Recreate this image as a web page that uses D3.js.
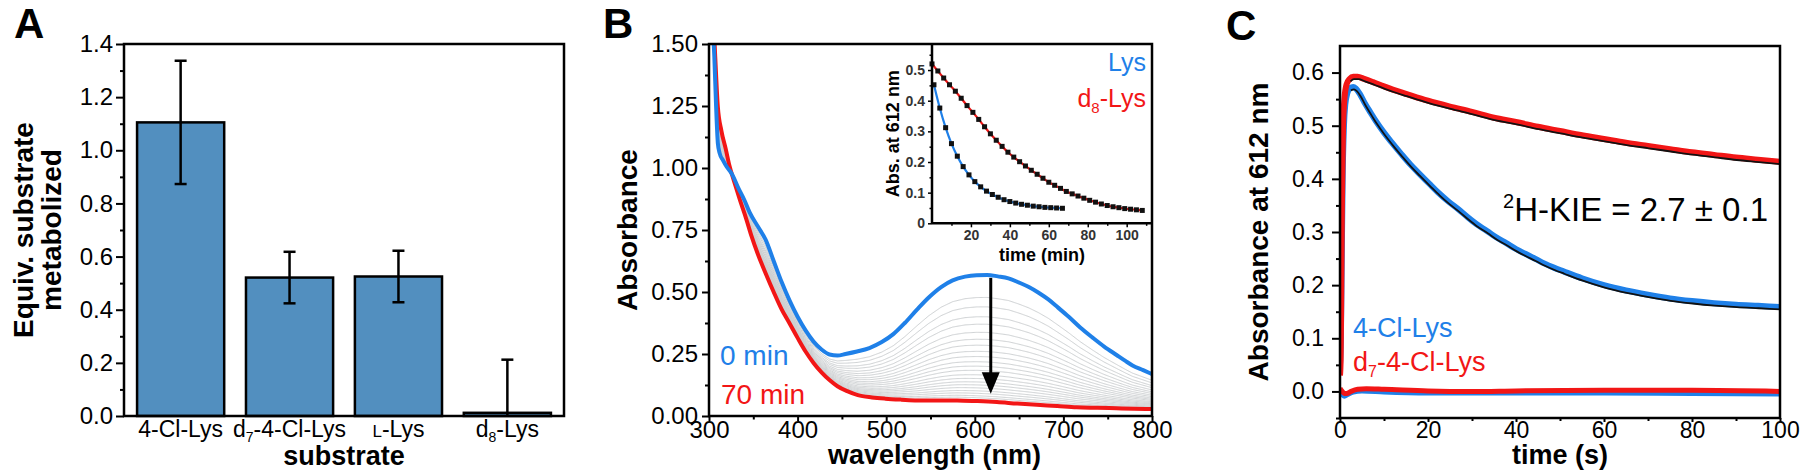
<!DOCTYPE html>
<html><head><meta charset="utf-8">
<script src="https://cdn.jsdelivr.net/npm/d3@7"></script>
<style>body{margin:0;background:#fff}svg{display:block}</style>
</head><body><svg id="c" width="1800" height="470"></svg>
<script>
// ---------------- DATA ----------------
// Panel A
const barCategories = ["4-Cl-Lys", "d7-4-Cl-Lys", "L-Lys", "d8-Lys"];
const barValues = [1.105, 0.521, 0.525, 0.012];
const barErrors = [0.232, 0.097, 0.097, 0.2];
const barYTicks = [0, 0.2, 0.4, 0.6, 0.8, 1.0, 1.2, 1.4];
const barYMinor = [0.1, 0.3, 0.5, 0.7, 0.9, 1.1, 1.3];

// Panel B spectra
const spec0Wavelength = [304,306,308,310,312,316,320,326,333,340,346,355,364,373,382,391,400,409,418,427,436,445,454,467,481,495,508,521,535,548,562,575,589,602,614,626,638,650,661,672,683,694,706,719,733,746,760,770,778,790,800];
const spec0Abs = [1.6,1.45,1.25,1.1,1.06,1.03,1.005,0.975,0.92,0.87,0.82,0.765,0.71,0.625,0.54,0.465,0.40,0.345,0.30,0.268,0.248,0.244,0.25,0.26,0.274,0.298,0.33,0.375,0.43,0.478,0.52,0.547,0.562,0.568,0.569,0.563,0.555,0.538,0.52,0.497,0.47,0.437,0.40,0.357,0.316,0.28,0.246,0.222,0.204,0.185,0.169];
const spec70Wavelength = [305,307,310,314,319,323,328,335,342,348,355,364,373,382,391,400,409,418,427,436,445,456,468,484,499,517,535,558,580,603,625,648,670,693,715,738,760,780,800];
const spec70Abs = [1.6,1.45,1.245,1.15,1.075,1.01,0.95,0.87,0.795,0.725,0.654,0.575,0.50,0.43,0.373,0.315,0.26,0.214,0.176,0.145,0.12,0.1,0.084,0.075,0.07,0.066,0.063,0.063,0.063,0.06,0.056,0.05,0.045,0.04,0.035,0.033,0.031,0.029,0.028];
// intermediate spectra, absorbance read at 612 nm
const grayAt612 = [0.478,0.44,0.40,0.37,0.337,0.309,0.285,0.26,0.239,0.218,0.2,0.183,0.165,0.15,0.136,0.124,0.112,0.1,0.09,0.08,0.072];
const specXTicks = [300,400,500,600,700,800];
const specXMinor = [350,450,550,650,750];
const specYTicks = [0,0.25,0.5,0.75,1.0,1.25,1.5];
const specYMinor = [0.125,0.375,0.625,0.875,1.125,1.375];

// Panel B inset
const lysTime = [1,4,7,10,13,16,19,22,25,28,31,34,37,40,43,46,49,52,55,58,61,64,67];
const lysAbs = [0.452,0.376,0.312,0.260,0.219,0.185,0.158,0.136,0.119,0.105,0.094,0.085,0.077,0.071,0.066,0.062,0.059,0.056,0.054,0.052,0.051,0.050,0.049];
const d8Time = [0,3,6,9,12,15,18,21,24,27,30,33,36,39,42,45,48,51,54,57,60,63,66,69,72,75,78,81,84,87,90,93,96,99,102,105,108];
const d8Abs = [0.52,0.497,0.474,0.452,0.431,0.408,0.384,0.362,0.339,0.315,0.292,0.271,0.251,0.232,0.216,0.201,0.187,0.173,0.160,0.147,0.134,0.124,0.114,0.104,0.096,0.089,0.082,0.075,0.069,0.063,0.058,0.054,0.051,0.048,0.046,0.044,0.042];
const insetXTicks = [20,40,60,80,100];
const insetXMinor = [10,30,50,70,90,110];
const insetYTicks = [0,0.1,0.2,0.3,0.4,0.5];
const insetYMinor = [0.05,0.15,0.25,0.35,0.45,0.55];

// Panel C kinetics
const clTime = [0,0.2,0.4,0.6,0.9,1.2,1.7,2.3,3,3.6,4.5,5.6,7,8.2,10,11.7,14,16,18,20.4,22.5,24.7,27,29,31,33.4,35.5,37.8,40,42.1,44.3,46.4,48.6,50.8,55,60,65,70,75,80,85,90,95,100];
const clAbs = [0.05,0.1,0.25,0.4,0.5,0.54,0.562,0.571,0.573,0.57,0.56,0.543,0.524,0.508,0.487,0.469,0.446,0.427,0.41,0.39,0.373,0.357,0.342,0.328,0.315,0.302,0.29,0.279,0.268,0.259,0.25,0.241,0.233,0.226,0.213,0.2,0.19,0.182,0.175,0.17,0.166,0.163,0.161,0.159];
const d7Time = [0,0.15,0.3,0.45,0.7,1.0,1.5,2.2,3,4,5.5,7.5,10,12,15,20,25,30,35,40,45,50,55,60,65,70,75,80,85,90,95,100];
const d7Abs = [0.03,0.06,0.2,0.36,0.5,0.55,0.578,0.588,0.592,0.592,0.588,0.582,0.574,0.568,0.56,0.547,0.536,0.526,0.515,0.507,0.498,0.49,0.482,0.475,0.468,0.462,0.456,0.45,0.445,0.44,0.436,0.432];
const ctrlRedTime = [0,0.5,1,1.5,2.5,4,6,10,20,30,40,60,80,100];
const ctrlRedAbs = [0.006,0.0,-0.004,-0.004,0.0,0.004,0.005,0.004,0.001,0.0,0.001,0.002,0.002,0.0];
const ctrlBlueTime = [0,0.5,1,1.7,3,5,10,20,40,60,80,100];
const ctrlBlueAbs = [-0.002,-0.006,-0.009,-0.006,-0.001,0.001,-0.001,-0.003,-0.003,-0.003,-0.004,-0.005];
const kinXTicks = [0,20,40,60,80,100];
const kinXMinor = [10,30,50,70,90];
const kinYTicks = [0,0.1,0.2,0.3,0.4,0.5,0.6];
const kinYMinor = [-0.05,0.05,0.15,0.25,0.35,0.45,0.55];

// ---------------- STYLE ----------------
const FONT = '"Liberation Sans", Arial, Helvetica, sans-serif';
const BLUE = "#1f80e8", RED = "#f21616", BAR = "#528fbf";
const svg = d3.select("#c").attr("font-family", FONT);

function axis(gen, x, y, vals, size, pad, fmt, fs) {
  const g = svg.append("g").attr("transform", `translate(${x},${y})`)
    .call(gen.tickValues(vals).tickSize(size).tickPadding(pad).tickFormat(fmt));
  g.select(".domain").remove();
  g.attr("font-family", FONT).attr("font-size", fs);
  g.selectAll("line").attr("stroke", "#000").attr("stroke-width", 2);
  g.selectAll("text").attr("fill", "#000");
  return g;
}
function frame(p, w) {
  svg.append("rect").attr("x", p.x0).attr("y", p.y0).attr("width", p.x1 - p.x0).attr("height", p.y1 - p.y0)
    .attr("fill", "none").attr("stroke", "#000").attr("stroke-width", w || 2.5);
}
function letter(t, x, y) {
  svg.append("text").attr("x", x).attr("y", y).attr("font-size", 42).attr("font-weight", "bold").text(t);
}
function ytitle(lines, cy, fs) {
  lines.forEach(l => {
    svg.append("text").attr("transform", `translate(${l.x},${cy}) rotate(-90)`)
      .attr("text-anchor", "middle").attr("dy", "0.35em").attr("font-size", fs).attr("font-weight", "bold").text(l.t);
  });
}
const TICK_BASE = 438, TITLE_BASE = 464;

// ---------------- PANEL A ----------------
const A = {x0: 124, x1: 564, y0: 44, y1: 416};
const xA = d3.scaleBand().domain(barCategories).range([A.x0, A.x1]).paddingInner(0.2).paddingOuter(0.12);
const yA = d3.scaleLinear().domain([0, 1.4]).range([A.y1, A.y0]);
svg.append("clipPath").attr("id", "clipA").append("rect").attr("x", A.x0).attr("y", A.y0).attr("width", A.x1 - A.x0).attr("height", A.y1 - A.y0);
svg.append("g").selectAll("rect").data(barCategories).join("rect")
  .attr("x", d => xA(d)).attr("width", xA.bandwidth())
  .attr("y", (d, i) => yA(barValues[i])).attr("height", (d, i) => yA(0) - yA(barValues[i]))
  .attr("fill", BAR).attr("stroke", "#000").attr("stroke-width", 2.5);
const eg = svg.append("g").attr("clip-path", "url(#clipA)").attr("stroke", "#000").attr("stroke-width", 2.5);
barCategories.forEach((c, i) => {
  const cx = xA(c) + xA.bandwidth() / 2;
  const hi = barValues[i] + barErrors[i], lo = barValues[i] - barErrors[i];
  eg.append("line").attr("x1", cx).attr("x2", cx).attr("y1", yA(hi)).attr("y2", yA(lo));
  eg.append("line").attr("x1", cx - 6).attr("x2", cx + 6).attr("y1", yA(hi)).attr("y2", yA(hi));
  eg.append("line").attr("x1", cx - 6).attr("x2", cx + 6).attr("y1", yA(lo)).attr("y2", yA(lo));
});
axis(d3.axisLeft(yA), A.x0, 0, barYTicks, 8, 3, d3.format(".1f"), 24);
axis(d3.axisLeft(yA), A.x0, 0, barYMinor, 4, 3, () => "", 24);
frame(A);
const catG = svg.append("g").attr("font-size", 23).attr("text-anchor", "middle");
barCategories.forEach(c => {
  const t = catG.append("text").attr("x", xA(c) + xA.bandwidth() / 2).attr("y", TICK_BASE - 1);
  if (c.startsWith("d7") || c.startsWith("d8")) {
    t.append("tspan").text("d");
    t.append("tspan").attr("font-size", 14).attr("dy", 5).text(c[1]);
    t.append("tspan").attr("dy", -5).text(c.slice(2));
  } else if (c === "L-Lys") {
    t.append("tspan").attr("font-size", 17).text("L");
    t.append("tspan").text("-Lys");
  } else t.text(c);
});
svg.append("text").attr("x", (A.x0 + A.x1) / 2).attr("y", TITLE_BASE + 1).attr("text-anchor", "middle")
  .attr("font-size", 27).attr("font-weight", "bold").text("substrate");
ytitle([{t: "Equiv. substrate", x: 23}, {t: "metabolized", x: 51}], (A.y0 + A.y1) / 2, 28);
letter("A", 14, 38);

// ---------------- PANEL B ----------------
const B = {x0: 709, x1: 1152, y0: 44, y1: 416};
const xB = d3.scaleLinear().domain([300, 800]).range([B.x0, B.x1]);
const yB = d3.scaleLinear().domain([0, 1.5]).range([B.y1, B.y0]);
svg.append("clipPath").attr("id", "clipB").append("rect").attr("x", B.x0).attr("y", B.y0).attr("width", B.x1 - B.x0).attr("height", B.y1 - B.y0);
const gB = svg.append("g").attr("clip-path", "url(#clipB)");
const blueI = d3.scaleLinear().domain(spec0Wavelength).range(spec0Abs).clamp(true);
const redI = d3.scaleLinear().domain(spec70Wavelength).range(spec70Abs).clamp(true);
const grid = d3.range(305, 800.5, 1);
const r612 = redI(612), b612 = blueI(612);
const lineB = d3.line().x(d => xB(d[0])).y(d => yB(d[1]));
grayAt612.forEach(g => {
  const f = (g - r612) / (b612 - r612);
  gB.append("path").datum(grid.map(w => [w, redI(w) + f * (blueI(w) - redI(w))]))
    .attr("d", lineB).attr("fill", "none").attr("stroke", "#cdd0d2").attr("stroke-width", 1);
});
const lineBm = d3.line().x(d => xB(d[0])).y(d => yB(d[1])).curve(d3.curveMonotoneX);
gB.append("path").datum(spec70Wavelength.map((w, i) => [w, spec70Abs[i]])).attr("d", lineBm)
  .attr("fill", "none").attr("stroke", RED).attr("stroke-width", 4);
gB.append("path").datum(spec0Wavelength.map((w, i) => [w, spec0Abs[i]])).attr("d", lineBm)
  .attr("fill", "none").attr("stroke", BLUE).attr("stroke-width", 4);
const ax = xB(618);
svg.append("line").attr("x1", ax).attr("x2", ax).attr("y1", yB(0.557)).attr("y2", yB(0.16))
  .attr("stroke", "#000").attr("stroke-width", 3);
svg.append("path").attr("d", `M${ax - 9},${yB(0.176)} L${ax + 9},${yB(0.176)} L${ax},${yB(0.09)} Z`).attr("fill", "#000");
svg.append("text").attr("x", 720).attr("y", yB(0.204)).attr("font-size", 28).attr("fill", BLUE).text("0 min");
svg.append("text").attr("x", 721).attr("y", yB(0.049)).attr("font-size", 28).attr("fill", RED).text("70 min");
axis(d3.axisLeft(yB), B.x0, 0, specYTicks, 7, 4, d3.format(".2f"), 24);
axis(d3.axisLeft(yB), B.x0, 0, specYMinor, 4, 4, () => "", 24);
axis(d3.axisBottom(xB), 0, B.y1, specXTicks, 5, TICK_BASE - B.y1 - 5 - 0.71 * 24, d3.format("d"), 24);
axis(d3.axisBottom(xB), 0, B.y1, specXMinor, 3.5, 0, () => "", 24);

// inset
const I = {x0: 932, x1: B.x1, y0: B.y0, y1: yB(0.777)};
const xI = d3.scaleLinear().domain([0, 113]).range([I.x0, I.x1]);
const yI = d3.scaleLinear().domain([0, 0.585]).range([I.y1, I.y0]);
svg.append("rect").attr("x", I.x0).attr("y", I.y0).attr("width", I.x1 - I.x0).attr("height", I.y1 - I.y0).attr("fill", "#fff");
const lineI = d3.line().x(d => xI(d[0])).y(d => yI(d[1])).curve(d3.curveMonotoneX);
svg.append("path").datum(d8Time.map((t, i) => [t, d8Abs[i]])).attr("d", lineI).attr("fill", "none").attr("stroke", RED).attr("stroke-width", 2.2);
svg.append("path").datum(lysTime.map((t, i) => [t, lysAbs[i]])).attr("d", lineI).attr("fill", "none").attr("stroke", BLUE).attr("stroke-width", 2.2);
svg.append("g").selectAll("rect").data(d8Time.map((t, i) => [t, d8Abs[i]]).concat(lysTime.map((t, i) => [t, lysAbs[i]])))
  .join("rect").attr("x", d => xI(d[0]) - 2.5).attr("y", d => yI(d[1]) - 2.5).attr("width", 5).attr("height", 5).attr("fill", "#111");
const iy = axis(d3.axisLeft(yI), I.x0, 0, insetYTicks, 4, 3, d => d === 0 ? "0" : d3.format(".1f")(d), 14);
const iy2 = axis(d3.axisLeft(yI), I.x0, 0, insetYMinor, 2.5, 3, () => "", 14);
const ix = axis(d3.axisBottom(xI), 0, I.y1, insetXTicks, 4, 3, d3.format("d"), 14);
const ix2 = axis(d3.axisBottom(xI), 0, I.y1, insetXMinor, 2.5, 3, () => "", 14);
[iy, iy2, ix, ix2].forEach(g => { g.selectAll("line").attr("stroke-width", 1.5); g.selectAll("text").attr("fill", "#333").attr("font-weight", "bold"); });
svg.append("line").attr("x1", I.x0).attr("x2", I.x0).attr("y1", I.y0).attr("y2", I.y1).attr("stroke", "#000").attr("stroke-width", 2.5);
svg.append("line").attr("x1", I.x0).attr("x2", I.x1).attr("y1", I.y1).attr("y2", I.y1).attr("stroke", "#000").attr("stroke-width", 2.5);
svg.append("text").attr("x", (I.x0 + I.x1) / 2).attr("y", yB(0.654) + 7).attr("text-anchor", "middle").attr("font-size", 18).attr("font-weight", "bold").text("time (min)");
ytitle([{t: "Abs. at 612 nm", x: 893}], (I.y0 + I.y1) / 2, 18);
svg.append("text").attr("x", 1146).attr("y", yB(1.392)).attr("text-anchor", "end").attr("font-size", 25).attr("fill", BLUE).text("Lys");
const d8t = svg.append("text").attr("x", 1146).attr("y", yB(1.244)).attr("text-anchor", "end").attr("font-size", 25).attr("fill", RED);
d8t.append("tspan").text("d");
d8t.append("tspan").attr("font-size", 15).attr("dy", 6).text("8");
d8t.append("tspan").attr("dy", -6).text("-Lys");
frame(B);
svg.append("text").attr("x", (B.x0 + B.x1) / 2 + 4).attr("y", TITLE_BASE).attr("text-anchor", "middle").attr("font-size", 27).attr("font-weight", "bold").text("wavelength (nm)");
ytitle([{t: "Absorbance", x: 627}], (B.y0 + B.y1) / 2, 28);
letter("B", 603, 38);

// ---------------- PANEL C ----------------
const C = {x0: 1340, x1: 1780, y0: 46, y1: 418};
const xC = d3.scaleLinear().domain([0, 100]).range([C.x0, C.x1]);
const yC = d3.scaleLinear().domain([-0.05, 0.65]).range([C.y1, C.y0]);
svg.append("clipPath").attr("id", "clipC").append("rect").attr("x", C.x0).attr("y", C.y0).attr("width", C.x1 - C.x0).attr("height", C.y1 - C.y0);
const gC = svg.append("g").attr("clip-path", "url(#clipC)");
const lineC = d3.line().x(d => xC(d[0])).y(d => yC(d[1])).curve(d3.curveMonotoneX);
const pairs = (t, a) => t.map((v, i) => [v, a[i]]);
gC.append("path").datum(pairs(ctrlBlueTime, ctrlBlueAbs)).attr("d", lineC).attr("fill", "none").attr("stroke", BLUE).attr("stroke-width", 5);
gC.append("path").datum(pairs(ctrlRedTime, ctrlRedAbs)).attr("d", lineC).attr("fill", "none").attr("stroke", RED).attr("stroke-width", 5);
gC.append("path").datum(pairs(clTime, clAbs)).attr("d", lineC).attr("fill", "none").attr("stroke", BLUE).attr("stroke-width", 6);
gC.append("path").datum(pairs(clTime, clAbs).filter(d => d[0] >= 2.3)).attr("d", lineC).attr("fill", "none").attr("stroke", "#111").attr("stroke-width", 1.8).attr("transform", "translate(0.8,2.4)");
gC.append("path").datum(pairs(d7Time, d7Abs)).attr("d", lineC).attr("fill", "none").attr("stroke", RED).attr("stroke-width", 6);
gC.append("path").datum(pairs(d7Time, d7Abs).filter(d => d[0] >= 2.2)).attr("d", lineC).attr("fill", "none").attr("stroke", "#111").attr("stroke-width", 1.8).attr("transform", "translate(0.8,2.4)");
axis(d3.axisLeft(yC), C.x0, 0, kinYTicks, 8, 8, d3.format(".1f"), 23);
axis(d3.axisLeft(yC), C.x0, 0, kinYMinor, 4, 8, () => "", 23);
axis(d3.axisBottom(xC), 0, C.y1, kinXTicks, 4, TICK_BASE - C.y1 - 4 - 0.71 * 23, d3.format("d"), 23);
axis(d3.axisBottom(xC), 0, C.y1, kinXMinor, 3, 0, () => "", 23);
frame(C);
const kie = svg.append("text").attr("x", 1768).attr("y", yC(0.321)).attr("text-anchor", "end").attr("font-size", 33);
kie.append("tspan").attr("font-size", 20).attr("dy", -13).text("2");
kie.append("tspan").attr("dy", 13).text("H-KIE = 2.7 ± 0.1");
svg.append("text").attr("x", 1353).attr("y", yC(0.102)).attr("font-size", 27).attr("fill", BLUE).text("4-Cl-Lys");
const d7t = svg.append("text").attr("x", 1353).attr("y", yC(0.039)).attr("font-size", 27).attr("fill", RED);
d7t.append("tspan").text("d");
d7t.append("tspan").attr("font-size", 16).attr("dy", 6).text("7");
d7t.append("tspan").attr("dy", -6).text("-4-Cl-Lys");
svg.append("text").attr("x", (C.x0 + C.x1) / 2).attr("y", TITLE_BASE).attr("text-anchor", "middle").attr("font-size", 27).attr("font-weight", "bold").text("time (s)");
ytitle([{t: "Absorbance at 612 nm", x: 1258}], (C.y0 + C.y1) / 2, 28);
letter("C", 1226, 40);
</script></body></html>
